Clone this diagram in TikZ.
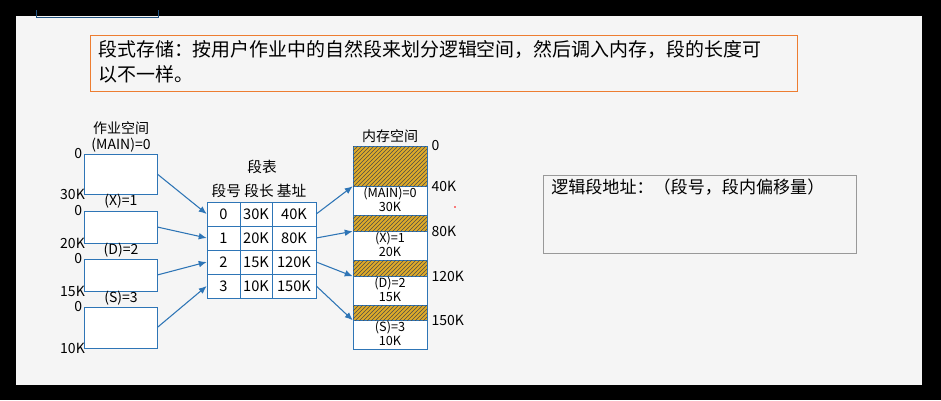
\documentclass[tikz,border=0pt]{standalone}
\usepackage{fontspec}
\setmainfont{Noto Sans CJK SC}
\usetikzlibrary{arrows.meta,patterns}
\definecolor{segblue}{RGB}{46,117,182}
\definecolor{hatchgold}{RGB}{222,170,40}
\definecolor{boxorange}{RGB}{237,125,49}
\tikzset{
  lbox/.style={draw=segblue,fill=white,minimum width=73*0.75pt,inner sep=0pt},
  cell/.style={draw=segblue,fill=white,minimum height=24*0.75pt,inner sep=0pt,font=\fontsize{11}{12}\selectfont},
  hatch/.style={draw=segblue,fill=hatchgold,postaction={pattern=north east lines,pattern color=black!70},minimum width=74*0.75pt,inner sep=0pt},
  lbl/.style={inner sep=0pt,font=\fontsize{10.5}{11.5}\selectfont},
  segarrow/.style={draw=segblue,thick,-{Latex[length=6pt,width=5pt]}}
}
\begin{document}
\begin{tikzpicture}[x=0.75pt,y=0.75pt,yscale=-1,xscale=1]
% frame and background
\fill[black] (0,0) rectangle (941,400);
\fill[black!4] (16,16) rectangle (922,385);
\draw[segblue!70!black] (36,10) -- (36,17) -- (158,17) -- (158,10);
% heading
\draw[boxorange] (90,35) rectangle (797,91);
\node[anchor=north west,inner sep=0pt,align=left,font=\fontsize{14.2}{19}\selectfont] (head) at (98,40) {段式存储：按用户作业中的自然段来划分逻辑空间，然后调入内存，段的长度可\\以不一样。};
% job space
\node[lbl,align=center] (jobtitle) at (121,137) {作业空间\\(MAIN)=0};
\node[lbox,minimum height=40*0.75pt] (b0) at (120.5,174) {};
\node[lbox,minimum height=32*0.75pt] (b1) at (120.5,227) {};
\node[lbox,minimum height=32*0.75pt] (b2) at (120.5,275) {};
\node[lbox,minimum height=41*0.75pt] (b3) at (120.5,327.5) {};
\node[lbl] (n1) at (121,201) {(X)=1};
\node[lbl] (n2) at (121,250) {(D)=2};
\node[lbl] (n3) at (121,298) {(S)=3};
\foreach \b/\len in {b0/30K,b1/20K,b2/15K,b3/10K}{
  \node[lbl,anchor=east] at ([xshift=-1pt]\b.north west) {0};
  \node[lbl,anchor=east] at ([xshift=1pt]\b.south west) {\len};
}
% segment table
\node[lbl,font=\fontsize{11}{12}\selectfont] (tabtitle) at (262,167) {段表};
\node[lbl,font=\fontsize{11}{12}\selectfont] (tabhead) at (259,191) {段号\ 段长\ 基址};
\foreach \i/\l/\a [evaluate=\i as \y using 214+24*\i] in {0/30K/40K,1/20K/80K,2/15K/120K,3/10K/150K}{
  \node[cell,minimum width=33*0.75pt] (r\i) at (223.5,\y) {\i};
  \node[cell,minimum width=32*0.75pt] (l\i) at (256,\y) {\l};
  \node[cell,minimum width=44*0.75pt] (a\i) at (294,\y) {\a};
}
% memory
\node[lbl] (memtitle) at (390,136) {内存空间};
\node[draw=segblue,fill=white,minimum width=74*0.75pt,minimum height=203*0.75pt,inner sep=0pt] (mem) at (390,247.5) {};
\node[hatch,minimum height=40*0.75pt] (h0) at (390,166) {};
\node[hatch,minimum height=16*0.75pt] (h1) at (390,223) {};
\node[hatch,minimum height=16*0.75pt] (h2) at (390,268) {};
\node[hatch,minimum height=15*0.75pt] (h3) at (390,312.5) {};
\node[lbl,anchor=west] (m0) at ([xshift=3pt]h0.north east) {0};
\node[lbl,anchor=west] (m40) at ([xshift=3pt]h0.south east) {40K};
\node[lbl,anchor=west] (m80) at ([xshift=3pt]h1.south east) {80K};
\node[lbl,anchor=west] (m120) at ([xshift=3pt]h2.south east) {120K};
\node[lbl,anchor=west] (m150) at ([xshift=3pt]h3.south east) {150K};
\node[lbl,align=center,font=\fontsize{9.5}{11}\selectfont] (s0) at (390,199.5) {(MAIN)=0\\30K};
\node[lbl,align=center,font=\fontsize{9.5}{11}\selectfont] (s1) at (390,244.5) {(X)=1\\20K};
\node[lbl,align=center,font=\fontsize{9.5}{11}\selectfont] (s2) at (390,289.5) {(D)=2\\15K};
\node[lbl,align=center,font=\fontsize{9.5}{11}\selectfont] (s3) at (390,333.5) {(S)=3\\10K};
% arrows
\foreach \i in {0,1,2,3}{
  \draw[segarrow] (b\i.east) -- (r\i.west);
  \draw[segarrow] (a\i.east) -- (h\i.south west);
}
% logical address
\node[draw=black!40,minimum width=313*0.75pt,minimum height=78*0.75pt,inner sep=0pt] (addr) at (699.5,214) {};
\node[anchor=north west,inner sep=0pt,font=\fontsize{12.8}{14}\selectfont] (addrtext) at (551,179) {逻辑段地址：（段号，段内偏移量）};
\fill[red] (455,207) circle (0.8);
\end{tikzpicture}
\end{document}
